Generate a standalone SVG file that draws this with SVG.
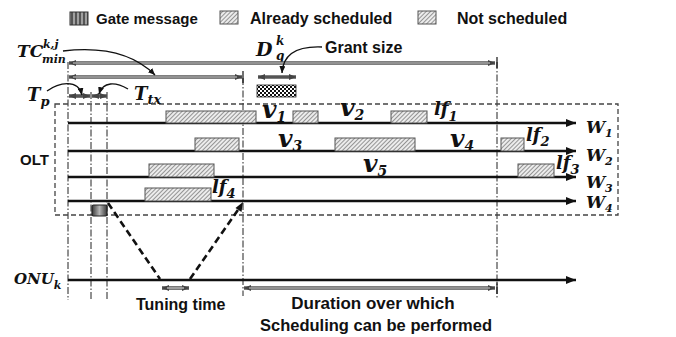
<svg xmlns="http://www.w3.org/2000/svg" width="676" height="337" viewBox="0 0 676 337">
  <style>
    .lbl { font-family: "Liberation Sans", Arial, sans-serif; font-weight: bold; fill: #111; }
    .m { font-family: "DejaVu Serif", "Liberation Serif", serif; font-style: italic; font-weight: bold; fill: #111; }
    .hatch { fill: url(#hatch); stroke: #555; stroke-width: 1; }
    .wl { stroke: #111; stroke-width: 2.5; fill: none; marker-end: url(#ah); }
    .guide { stroke: #222; stroke-width: 1; fill: none; stroke-dasharray: 7 2 1.5 2; }
    .bar-o { stroke: #555; stroke-width: 3.6; fill: none; }
    .bar-i { stroke: #cfcfcf; stroke-width: 1.2; fill: none; }
    .curve { stroke: #111; stroke-width: 1.4; fill: none; marker-end: url(#ch); }
    .prop { stroke: #111; stroke-width: 2.6; fill: none; stroke-dasharray: 7 4; }
    .tick { stroke: #111; stroke-width: 1.2; }
  </style>
  <defs>
    <pattern id="hatch" patternUnits="userSpaceOnUse" width="3" height="3" patternTransform="rotate(45)">
      <rect width="3" height="3" fill="#ececec"/>
      <line x1="0.5" y1="0" x2="0.5" y2="3" stroke="#8a8a8a" stroke-width="0.9"/>
    </pattern>
    <pattern id="checker" patternUnits="userSpaceOnUse" width="4" height="4">
      <rect width="4" height="4" fill="#fff"/>
      <rect width="2" height="2" fill="#111"/>
      <rect x="2" y="2" width="2" height="2" fill="#111"/>
    </pattern>
    <linearGradient id="gate" x1="0" y1="0" x2="1" y2="0">
      <stop offset="0" stop-color="#3a3a3a"/>
      <stop offset="0.25" stop-color="#777"/>
      <stop offset="0.5" stop-color="#b5b5b5"/>
      <stop offset="0.75" stop-color="#777"/>
      <stop offset="1" stop-color="#3a3a3a"/>
    </linearGradient>
    <pattern id="stripes" patternUnits="userSpaceOnUse" width="4" height="4">
      <rect width="4" height="4" fill="#555"/>
      <rect x="1" width="2" height="4" fill="#a0a0a0"/>
    </pattern>
    <marker id="ah" markerUnits="userSpaceOnUse" viewBox="0 0 10 8" refX="10" refY="4" markerWidth="10" markerHeight="8" orient="auto">
      <path d="M0,0 L10,4 L0,8 Z" fill="#111"/>
    </marker>
    <marker id="gh" markerUnits="userSpaceOnUse" viewBox="0 0 7 6" refX="7" refY="3" markerWidth="7" markerHeight="6" orient="auto-start-reverse">
      <path d="M0,0 L7,3 L0,6 Z" fill="#444"/>
    </marker>
    <marker id="ch" markerUnits="userSpaceOnUse" viewBox="0 0 7 6" refX="7" refY="3" markerWidth="7" markerHeight="6" orient="auto">
      <path d="M0,0 L7,3 L0,6 Z" fill="#111"/>
    </marker>
  </defs>

  <!-- legend -->
  <g id="legend">
    <rect x="70" y="12" width="18" height="13" fill="url(#stripes)" stroke="#333" stroke-width="1"/>
    <text class="lbl" x="96" y="24" font-size="15">Gate message</text>
    <rect class="hatch" x="220" y="11" width="18" height="13"/>
    <text class="lbl" x="250" y="24" font-size="16">Already scheduled</text>
    <rect class="hatch" x="418" y="11" width="18" height="13"/>
    <text class="lbl" x="457" y="24" font-size="16">Not scheduled</text>
  </g>

  <!-- vertical time references -->
  <g id="guides">
    <line class="guide" x1="68" y1="62" x2="68" y2="300"/>
    <line class="guide" x1="91" y1="92" x2="91" y2="300"/>
    <line class="guide" x1="107" y1="92" x2="107" y2="300"/>
    <line class="guide" x1="243" y1="78" x2="243" y2="296"/>
    <line class="guide" x1="497" y1="62" x2="497" y2="298"/>
  </g>

  <!-- OLT boundary -->
  <g id="olt">
    <rect x="55" y="104" width="563" height="111" fill="none" stroke="#444" stroke-width="1.3" stroke-dasharray="5 3"/>
    <text class="lbl" x="20" y="165" font-size="15">OLT</text>
  </g>

  <!-- wavelength channels -->
  <g id="w1">
    <line class="wl" x1="68" y1="123" x2="576" y2="123"/>
    <text class="m" x="586" y="133" font-size="17">W<tspan font-size="11" dy="4">1</tspan></text>
  </g>
  <g id="w2">
    <line class="wl" x1="68" y1="151" x2="576" y2="151"/>
    <text class="m" x="586" y="161" font-size="17">W<tspan font-size="11" dy="4">2</tspan></text>
  </g>
  <g id="w3">
    <line class="wl" x1="68" y1="177" x2="576" y2="177"/>
    <text class="m" x="586" y="188" font-size="17">W<tspan font-size="11" dy="4">3</tspan></text>
  </g>
  <g id="w4">
    <line class="wl" x1="68" y1="201" x2="576" y2="201"/>
    <text class="m" x="586" y="208" font-size="17">W<tspan font-size="11" dy="4">4</tspan></text>
  </g>

  <!-- scheduled / unscheduled slots -->
  <g id="slots">
    <rect class="hatch" x="166" y="111" width="90" height="12"/>
    <rect class="hatch" x="293" y="111" width="25" height="12"/>
    <rect class="hatch" x="391" y="111" width="36" height="12"/>
    <rect class="hatch" x="195" y="138" width="44" height="13"/>
    <rect class="hatch" x="335" y="138" width="80" height="13"/>
    <rect class="hatch" x="501" y="138" width="23" height="13"/>
    <rect class="hatch" x="149" y="164" width="65" height="13"/>
    <rect class="hatch" x="518" y="164" width="36" height="13"/>
    <rect class="hatch" x="145" y="188" width="66" height="13"/>
  </g>

  <!-- slot labels -->
  <g id="slot-labels">
    <text class="m" x="262" y="118" font-size="25">v<tspan font-size="14" dy="4">1</tspan></text>
    <text class="m" x="340" y="116" font-size="25">v<tspan font-size="14" dy="4">2</tspan></text>
    <text class="m" x="278" y="147" font-size="25">v<tspan font-size="14" dy="4">3</tspan></text>
    <text class="m" x="450" y="147" font-size="25">v<tspan font-size="14" dy="4">4</tspan></text>
    <text class="m" x="363" y="172" font-size="25">v<tspan font-size="14" dy="4">5</tspan></text>
    <text class="m" x="434" y="115" font-size="18">lf<tspan font-size="13" dy="6">1</tspan></text>
    <text class="m" x="526" y="141" font-size="18">lf<tspan font-size="13" dy="5">2</tspan></text>
    <text class="m" x="556" y="169" font-size="18">lf<tspan font-size="13" dy="5">3</tspan></text>
    <text class="m" x="212" y="193" font-size="18">lf<tspan font-size="13" dy="5">4</tspan></text>
  </g>

  <!-- gate message -->
  <g id="gate-msg">
    <rect x="92" y="205" width="15" height="11" rx="1.5" fill="url(#gate)" stroke="#222" stroke-width="1.2"/>
  </g>

  <!-- ONU timeline -->
  <g id="onu">
    <line class="wl" x1="68" y1="280" x2="576" y2="280"/>
    <text class="m" x="14" y="284" font-size="15">ONU<tspan font-size="11" dy="5">k</tspan></text>
  </g>

  <!-- timing annotations -->
  <g id="tc-min">
    <text class="m" x="17" y="57" font-size="17">TC</text>
    <text class="m" x="43" y="48" font-size="11">k,j</text>
    <text class="m" x="42" y="63" font-size="11">min</text>
  </g>
  <g id="dqk">
    <text class="m" x="256" y="56" font-size="19">D</text>
    <text class="m" x="276" y="45" font-size="12">k</text>
    <text class="m" x="276" y="60" font-size="12">q</text>
  </g>
  <g id="grant-size">
    <text class="lbl" x="325" y="53" font-size="16">Grant size</text>
    <rect x="257" y="85" width="39" height="12" fill="url(#checker)" stroke="#222" stroke-width="0.8"/>
  </g>
  <g id="tp">
    <text class="m" x="27" y="101" font-size="18">T<tspan font-size="13" dy="5">p</tspan></text>
  </g>
  <g id="ttx">
    <text class="m" x="134" y="100" font-size="18">T<tspan font-size="13" dy="4">tx</tspan></text>
  </g>
  <g id="tuning">
    <text class="lbl" x="136" y="310" font-size="16">Tuning time</text>
  </g>
  <g id="duration">
    <text class="lbl" x="373" y="309" font-size="17" text-anchor="middle">Duration over which</text>
    <text class="lbl" x="376" y="331" font-size="16.5" text-anchor="middle">Scheduling can be performed</text>
  </g>

  <!-- connectors -->
  <g id="connectors">
    <!-- interval bars -->
    <line class="bar-o" x1="69" y1="63" x2="495" y2="63" marker-start="url(#gh)" marker-end="url(#gh)"/>
    <line class="bar-i" x1="73" y1="63" x2="490" y2="63"/>
    <line class="tick" x1="497" y1="57" x2="497" y2="68"/>
    <line class="bar-o" x1="69" y1="77" x2="242" y2="77" marker-start="url(#gh)" marker-end="url(#gh)"/>
    <line class="bar-i" x1="73" y1="77" x2="237" y2="77"/>
    <line class="tick" x1="243" y1="71" x2="243" y2="83"/>
    <line class="bar-o" x1="258" y1="77" x2="296" y2="77" marker-start="url(#gh)" marker-end="url(#gh)"/>
    <line class="bar-o" x1="69" y1="96" x2="90" y2="96" marker-start="url(#gh)" marker-end="url(#gh)"/>
    <line class="bar-o" x1="92" y1="96" x2="107" y2="96" marker-start="url(#gh)" marker-end="url(#gh)"/>
    <line class="bar-o" x1="162" y1="288" x2="189" y2="288" marker-start="url(#gh)" marker-end="url(#gh)"/>
    <line class="bar-i" x1="167" y1="288" x2="184" y2="288"/>
    <line class="bar-o" x1="244" y1="288" x2="495" y2="288" marker-start="url(#gh)" marker-end="url(#gh)"/>
    <line class="bar-i" x1="249" y1="288" x2="490" y2="288"/>
    <line class="tick" x1="497" y1="282" x2="497" y2="294"/>

    <!-- label pointers -->
    <path class="curve" d="M63,51 C105,46 135,55 155,75"/>
    <path class="curve" d="M322,47 C298,46 283,54 282,73"/>
    <path class="curve" d="M47,91 C58,83 78,78 82,95"/>
    <path class="curve" d="M128,89 C116,82 103,81 99,94"/>

    <!-- propagation of gate and reply -->
    <line class="prop" x1="108" y1="203" x2="160" y2="279"/>
    <line class="prop" x1="190" y1="279" x2="240" y2="207"/>
    <path d="M243,202 L241.5,212 L235.5,208 Z" fill="#111"/>
  </g>
</svg>
